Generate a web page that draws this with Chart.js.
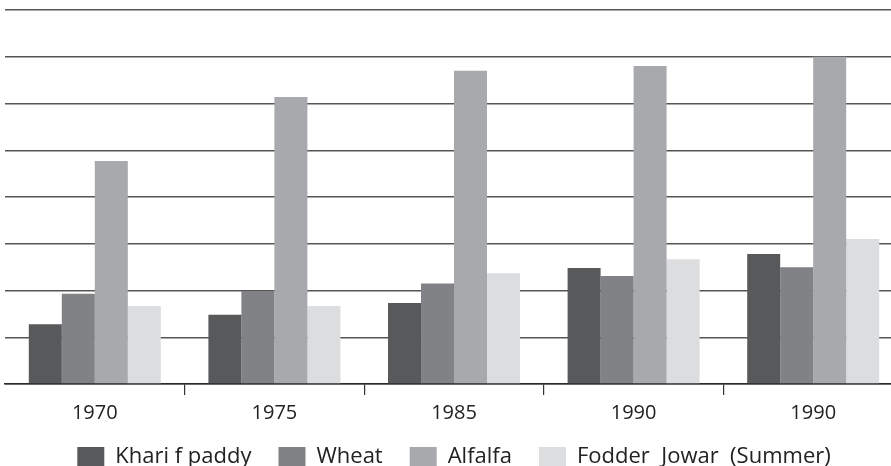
<!DOCTYPE html>
<html>
<head>
<meta charset="utf-8">
<script src="https://cdn.jsdelivr.net/npm/chart.js@4/dist/chart.umd.min.js"></script>
<style>
  html, body { margin: 0; padding: 0; background: #fff; overflow: hidden; }
  /* a little wider than the window: the original's last group runs close to the edge */
  #wrap { width: 903px; height: 466px; }
</style>
</head>
<body>
<div id="wrap"><canvas id="myChart"></canvas></div>
<script>
const years = ['1970', '1975', '1985', '1990', '1990'];
const kharif = [1.28, 1.48, 1.73, 2.48, 2.78];
const wheat = [1.93, 1.99, 2.15, 2.31, 2.50];
const alfalfa = [4.77, 6.14, 6.70, 6.80, 7.00];
const fodder = [1.67, 1.67, 2.37, 2.67, 3.10];

const fontFamily = "'Open Sans', 'DejaVu Sans', sans-serif";

const data = {
    labels: years,
    datasets: [{
        label: 'Khari f paddy',
        backgroundColor: '#58595b',
        data: kharif,
    },{
        label: 'Wheat',
        backgroundColor: '#808285',
        data: wheat,
    },{
        label: 'Alfalfa',
        backgroundColor: '#a7a9ac',
        data: alfalfa,
    },{
        label: 'Fodder  Jowar  (Summer)',
        backgroundColor: '#dcdddf',
        data: fodder,
    }]
};

const config = {
    type: 'bar',
    data: data,
    options: {
        responsive: true,
        maintainAspectRatio: false,
        animation: false,
        datasets: {
            bar: {
                categoryPercentage: 0.735,
                barPercentage: 1.0,
            }
        },
        layout: {
            padding: { top: 10, left: 5, right: 0, bottom: 0 }
        },
        scales: {
            x: {
                // keep the label band tight so the plot reaches down like the original
                afterFit: (scale) => { scale.height = 35; },
                grid: {
                    drawOnChartArea: false,
                    tickLength: 11,
                    lineWidth: 1.2,
                    color: (ctx) => (ctx.index === 0 || ctx.index === years.length) ? 'transparent' : '#333',
                },
                border: {
                    color: '#2a2a2a',
                    width: 1.6,
                },
                ticks: {
                    color: '#222',
                    padding: 6,
                    font: { family: fontFamily, size: 20 }
                }
            },
            y: {
                min: 0,
                max: 8,
                grid: {
                    drawTicks: false,
                    color: '#555',
                    lineWidth: 1.5,
                },
                border: { display: false },
                ticks: {
                    stepSize: 1,
                    display: false,
                }
            }
        },
        plugins: {
            tooltip: { enabled: false },
            legend: {
                position: 'bottom',
                maxHeight: 47,
                labels: {
                    boxWidth: 27,
                    boxHeight: 20,
                    padding: 27,
                    color: '#222',
                    font: { family: fontFamily, size: 22 }
                }
            }
        }
    }
};

const myChart = new Chart(
    document.getElementById('myChart'),
    config
);
</script>
</body>
</html>
